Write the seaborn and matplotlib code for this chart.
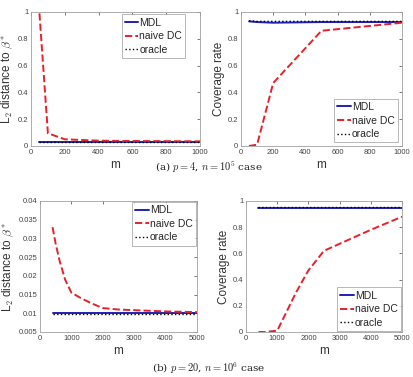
import matplotlib
matplotlib.use("Agg")
import matplotlib.pyplot as plt
import seaborn as sns
import pandas as pd
from matplotlib.ticker import FuncFormatter

# ---- data ----
# (a) p = 4, n = 1e5
m_a_l2 = [50, 100, 200, 300, 400, 500, 1000]
l2_a_mdl = [0.033, 0.033, 0.033, 0.033, 0.033, 0.033, 0.033]
l2_a_naive = [0.99, 0.095, 0.05, 0.045, 0.04, 0.038, 0.035]
l2_a_oracle = [0.032, 0.032, 0.032, 0.032, 0.032, 0.032, 0.032]

m_a_cov = [50, 100, 200, 500, 1000]
cov_a_mdl = [0.93, 0.925, 0.92, 0.925, 0.925]
cov_a_naive = [0.0, 0.01, 0.47, 0.86, 0.92]
cov_a_oracle = [0.935, 0.93, 0.93, 0.93, 0.93]

# (b) p = 20, n = 1e6
m_b = [400, 500, 625, 800, 1000, 1250, 1600, 2000, 2500, 4000, 5000]
l2_b_mdl = [0.01] * 11
l2_b_naive = [0.033, 0.0285, 0.024, 0.019, 0.0155, 0.0143, 0.0128, 0.0114,
              0.011, 0.0105, 0.0103]
l2_b_oracle = [0.0099] * 11

cov_b_mdl = [0.95] * 11
cov_b_naive = [0.0, 0.0, 0.0, 0.005, 0.01, 0.13, 0.3, 0.47, 0.62, 0.78, 0.88]
cov_b_oracle = [0.952] * 11

methods = ["MDL", "naive DC", "oracle"]
colors = {"MDL": "#1f1fb4", "naive DC": "#e8202a", "oracle": "black"}
styles = {"MDL": "-", "naive DC": "--", "oracle": ":"}
widths = {"MDL": 1.4, "naive DC": 1.4, "oracle": 1.0}

sns.set_theme(style="white")
plt.rcParams["font.family"] = ["Liberation Sans", "DejaVu Sans"]
plt.rcParams["mathtext.fontset"] = "cm"

fig = plt.figure(figsize=(4.13, 3.77), dpi=100)
fig.patch.set_facecolor("white")

W, H = 413, 377


def add_axes(x0, x1, ytop, ybot):
    return fig.add_axes([x0 / W, 1 - ybot / H, (x1 - x0) / W, (ybot - ytop) / H])


def draw(ax, m, series, xlim, xticks, ylim, yticks, ylabel, legend_kw):
    for name, vals in zip(methods, series):
        df = pd.DataFrame({"m": m, "v": vals})
        sns.lineplot(data=df, x="m", y="v", ax=ax, color=colors[name],
                     linestyle=styles[name], linewidth=widths[name], label=name)
    ax.set_xlim(*xlim)
    ax.set_ylim(*ylim)
    ax.set_xticks(xticks)
    ax.set_yticks(yticks)
    fmt = FuncFormatter(lambda v, p: f"{v:g}")
    ax.xaxis.set_major_formatter(fmt)
    ax.yaxis.set_major_formatter(fmt)
    ax.tick_params(direction="in", length=2, width=0.5, labelsize=5.5,
                   colors="#444444", top=True, right=True, pad=2)
    for s in ax.spines.values():
        s.set_color("#a0a0a0")
        s.set_linewidth(0.6)
    ax.set_xlabel("m", fontsize=8.5, color="#333333", labelpad=2)
    ax.set_ylabel(ylabel, fontsize=8.5, color="#333333", labelpad=2)
    leg = ax.legend(fontsize=7.5, frameon=True, fancybox=False, handlelength=1.3,
                    handletextpad=0.1, borderpad=0.3, labelspacing=0.35,
                    borderaxespad=0.1, **legend_kw)
    leg.get_frame().set_edgecolor("#999999")
    leg.get_frame().set_linewidth(0.6)


l2_label = r"L$_2$ distance to $\beta^*$"

ax1 = add_axes(31, 200, 12, 146)
draw(ax1, m_a_l2, [l2_a_mdl, l2_a_naive, l2_a_oracle], (0, 1000),
     range(0, 1001, 200), (0, 1), [0, 0.2, 0.4, 0.6, 0.8, 1], l2_label,
     dict(loc="upper right", bbox_to_anchor=(0.92, 0.99)))

ax2 = add_axes(241, 402, 12, 146)
draw(ax2, m_a_cov, [cov_a_mdl, cov_a_naive, cov_a_oracle], (0, 1000),
     range(0, 1001, 200), (0, 1), [0, 0.2, 0.4, 0.6, 0.8, 1], "Coverage rate",
     dict(loc="lower right", bbox_to_anchor=(0.98, 0.02)))

ax3 = add_axes(40, 197, 201, 332)
draw(ax3, m_b, [l2_b_mdl, l2_b_naive, l2_b_oracle], (0, 5000),
     range(0, 5001, 1000), (0.005, 0.04),
     [0.005, 0.01, 0.015, 0.02, 0.025, 0.03, 0.035, 0.04], l2_label,
     dict(loc="upper right", bbox_to_anchor=(1.0, 1.0)))

ax4 = add_axes(246, 402, 201, 332)
draw(ax4, m_b, [cov_b_mdl, cov_b_naive, cov_b_oracle], (0, 5000),
     range(0, 5001, 1000), (0, 1), [0, 0.2, 0.4, 0.6, 0.8, 1], "Coverage rate",
     dict(loc="lower right", bbox_to_anchor=(1.0, 0.0)))

cap_kw = dict(ha="center", va="center", fontsize=7.5,
              family=["DejaVu Serif"], color="#222222")
fig.text(209 / W, 1 - 167 / H, r"(a) $p = 4$, $n = 10^5$ case", **cap_kw)
fig.text(209 / W, 1 - 368 / H, r"(b) $p = 20$, $n = 10^6$ case", **cap_kw)

fig.savefig("out.png", dpi=100, facecolor="white")
